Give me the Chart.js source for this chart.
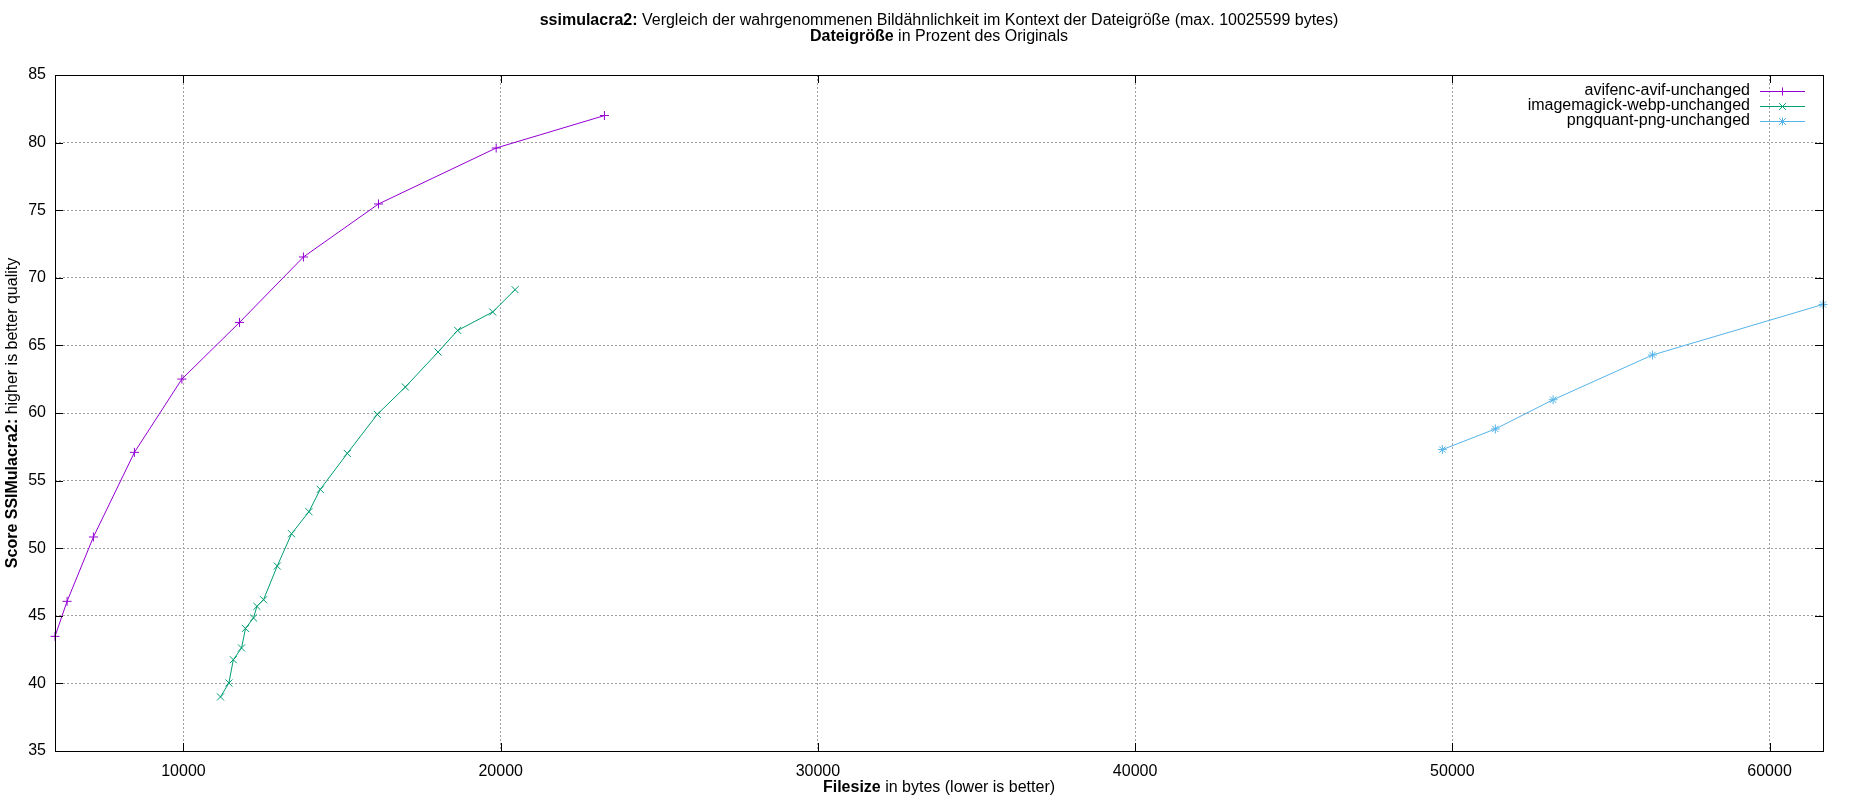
<!DOCTYPE html>
<html>
<head>
<meta charset="utf-8">
<script src="https://cdn.jsdelivr.net/npm/chart.js@4"></script>
<style>
html,body{margin:0;padding:0;background:#fff;}
#wrap{width:1850px;height:800px;position:relative;}
</style>
</head>
<body>
<div id="wrap"><canvas id="c"></canvas></div>
<script>
// ---- data ----
const seriesNames = ['avifenc-avif-unchanged', 'imagemagick-webp-unchanged', 'pngquant-png-unchanged'];
const avifSize = [5950, 6331, 7161, 8454, 9950, 11767, 13782, 16148, 19858, 23271];
const avifScore = [43.48, 46.07, 50.83, 57.09, 62.51, 66.7, 71.54, 75.46, 79.6, 82.0];
const webpSize = [11167, 11432, 11571, 11830, 11956, 12208, 12315, 12524, 12956, 13407, 13956, 14312, 15164, 16110, 16994, 18025, 18644, 19748, 20454];
const webpScore = [39.0, 40.03, 41.75, 42.62, 44.07, 44.84, 45.7, 46.19, 48.68, 51.07, 52.7, 54.35, 57.01, 59.9, 61.92, 64.51, 66.11, 67.47, 69.12];
const pngSize = [49685, 51356, 53177, 56309, 61685];
const pngScore = [57.29, 58.82, 60.98, 64.29, 68.03];
const xTicks = [10000, 20000, 30000, 40000, 50000, 60000];
const yTicks = [35, 40, 45, 50, 55, 60, 65, 70, 75, 80, 85];
const titleLine1 = [['ssimulacra2:', true], [' Vergleich der wahrgenommenen Bildähnlichkeit im Kontext der Dateigröße (max. 10025599 bytes)', false]];
const titleLine2 = [['Dateigröße', true], [' in Prozent des Originals', false]];
const xTitle = [['Filesize', true], [' in bytes (lower is better)', false]];
const yTitle = [['Score SSIMulacra2:', true], [' higher is better quality', false]];
const colors = ['#9400d3', '#009e73', '#56b4e9'];
const markers = ['cross', 'crossRot', 'star'];

const FONT = "'Liberation Sans', Arial, sans-serif";
const pts = (xs, ys) => xs.map((x, i) => ({x: x, y: ys[i]}));

function mixedWidth(ctx, parts) {
  let w = 0;
  parts.forEach(p => { ctx.font = (p[1] ? 'bold ' : '') + '16px ' + FONT; w += ctx.measureText(p[0]).width; });
  return w;
}
function drawMixed(ctx, parts, cx, cy) {
  const w = mixedWidth(ctx, parts);
  let x = cx - w / 2;
  ctx.textAlign = 'left';
  ctx.textBaseline = 'middle';
  ctx.fillStyle = '#000';
  parts.forEach(p => {
    ctx.font = (p[1] ? 'bold ' : '') + '16px ' + FONT;
    ctx.fillText(p[0], x, cy);
    x += ctx.measureText(p[0]).width;
  });
}
function drawMarker(ctx, type, x, y, r) {
  ctx.beginPath();
  if (type === 'cross' || type === 'star') {
    ctx.moveTo(x - r, y); ctx.lineTo(x + r, y);
    ctx.moveTo(x, y - r); ctx.lineTo(x, y + r);
  }
  if (type === 'crossRot' || type === 'star') {
    const d = r * 0.85;
    ctx.moveTo(x - d, y - d); ctx.lineTo(x + d, y + d);
    ctx.moveTo(x - d, y + d); ctx.lineTo(x + d, y - d);
  }
  ctx.stroke();
}

const decor = {
  id: 'decor',
  beforeDraw(chart) {
    const ctx = chart.ctx;
    ctx.save();
    ctx.fillStyle = '#fff';
    ctx.fillRect(0, 0, chart.width, chart.height);
    ctx.restore();
  },
  afterDraw(chart) {
    const ctx = chart.ctx;
    const a = chart.chartArea;
    const xs = chart.scales.x, ys = chart.scales.y;
    ctx.save();
    // border
    ctx.strokeStyle = '#000';
    ctx.lineWidth = 1;
    ctx.setLineDash([]);
    ctx.strokeRect(Math.round(a.left) + 0.5, Math.round(a.top) + 0.5, Math.round(a.right - a.left), Math.round(a.bottom - a.top));
    // inward ticks
    const TL = 8;
    ctx.beginPath();
    xs.ticks.forEach(t => {
      const px = Math.round(xs.getPixelForValue(t.value)) + 0.5;
      ctx.moveTo(px, a.bottom); ctx.lineTo(px, a.bottom - TL);
      ctx.moveTo(px, a.top); ctx.lineTo(px, a.top + TL);
    });
    ys.ticks.forEach(t => {
      const py = Math.round(ys.getPixelForValue(t.value)) + 0.5;
      ctx.moveTo(a.left, py); ctx.lineTo(a.left + TL, py);
      ctx.moveTo(a.right, py); ctx.lineTo(a.right - TL, py);
    });
    ctx.stroke();
    // titles
    const cx = (a.left + a.right) / 2;
    drawMixed(ctx, titleLine1, cx, 21);
    drawMixed(ctx, titleLine2, cx, 37);
    drawMixed(ctx, xTitle, cx, 788);
    ctx.save();
    ctx.translate(13, (a.top + a.bottom) / 2);
    ctx.rotate(-Math.PI / 2);
    drawMixed(ctx, yTitle, 0, 0);
    ctx.restore();
    // legend
    chart.data.datasets.forEach((ds, i) => {
      const y = 91 + i * 15;
      ctx.font = '16px ' + FONT;
      ctx.fillStyle = '#000';
      ctx.textAlign = 'right';
      ctx.textBaseline = 'middle';
      ctx.fillText(ds.label, 1750, y);
      ctx.strokeStyle = ds.borderColor;
      ctx.lineWidth = 1;
      ctx.beginPath();
      ctx.moveTo(1760, Math.round(y) + 0.5); ctx.lineTo(1805, Math.round(y) + 0.5);
      ctx.stroke();
      drawMarker(ctx, markers[i], 1782.5, Math.round(y) + 0.5, 4);
    });
    ctx.restore();
  }
};

const datasets = [
  {label: seriesNames[0], data: pts(avifSize, avifScore)},
  {label: seriesNames[1], data: pts(webpSize, webpScore)},
  {label: seriesNames[2], data: pts(pngSize, pngScore)}
].map((d, i) => Object.assign(d, {
  borderColor: colors[i],
  backgroundColor: colors[i],
  borderWidth: 1,
  pointStyle: markers[i],
  pointRadius: i === 1 ? 5 : 4.5,
  pointBorderWidth: 1,
  pointHoverRadius: 4,
  tension: 0,
  fill: false,
  clip: false,
  showLine: true
}));

new Chart(document.getElementById('c'), {
  type: 'scatter',
  data: {datasets: datasets},
  options: {
    responsive: true,
    maintainAspectRatio: false,
    devicePixelRatio: 1,
    animation: false,
    events: [],
    layout: {padding: {top: 75, right: 27, left: 0, bottom: 0}},
    plugins: {legend: {display: false}, tooltip: {enabled: false}, title: {display: false}},
    scales: {
      x: {
        type: 'linear',
        min: avifSize[0],
        max: pngSize[pngSize.length - 1],
        afterBuildTicks: s => { s.ticks = xTicks.map(v => ({value: v})); },
        afterFit: s => { s.height = 49; },
        ticks: {color: '#000', font: {family: FONT, size: 16}, padding: 11, maxRotation: 0,
                callback: v => String(v)},
        grid: {color: '#a0a0a0', lineWidth: 1, drawTicks: false},
        border: {display: false, dash: [2, 2]}
      },
      y: {
        type: 'linear',
        min: 35,
        max: 85,
        afterBuildTicks: s => { s.ticks = yTicks.map(v => ({value: v})); },
        afterFit: s => { s.width = 55; },
        ticks: {color: '#000', font: {family: FONT, size: 16}, padding: 9, callback: v => String(v)},
        grid: {color: '#a0a0a0', lineWidth: 1, drawTicks: false},
        border: {display: false, dash: [2, 2]}
      }
    }
  },
  plugins: [decor]
});
</script>
</body>
</html>
